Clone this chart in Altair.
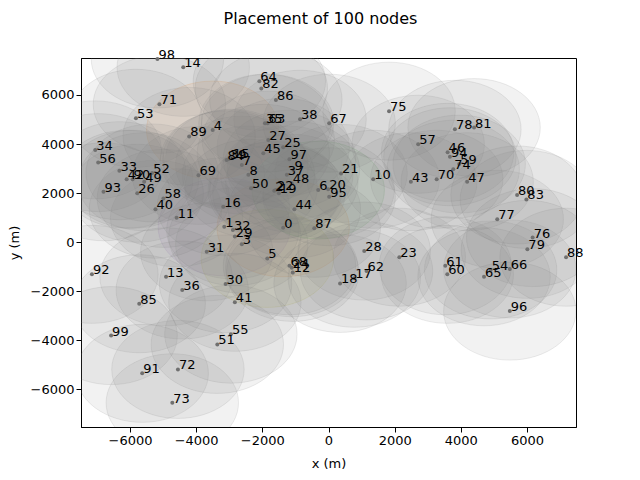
import altair as alt
import pandas as pd

node_id = list(range(100))
x_m = [
    -1370, -3150, -1640, -2620, -3500, -1850, -310, -2620, -2420, -1060,
    1350, -4590, -1080, -4910, -4390, -2920, -3180, 780, 350, -1500,
    -10, 380, -1590, 2140, -1110, -1370, -5780, -1820, 1080, -2830,
    -3110, -3680, -2890, -6320, -7050, -1920, -4420, -1260, -860, -3010,
    -5230, -2830, -6100, 2490, -1030, -1970, 3600, 4190, -1110, -5570,
    -2340, -3360, -5330, -5820, 4900, -2950, -6960, 2710, -4990, 3950,
    3590, 3530, 1150, -1840, -2090, 4700, 5480, 20, -1180, -3930,
    3270, -5110, -4550, -4720, 3770, 1830, 6170, 5100, 3820, 6010,
    5700, 4400, -2030, 5980, -3080, -5720, -1590, -430, 7180, -4210,
    -5920, -5630, -7150, -6800, 3670, 20, 5480, -1180, -5170, -6570,
]
y_m = [
    580, 620, 2090, -90, 4570, -670, 2120, 3140, 2740, 2940,
    2560, 990, -1240, -1420, 7130, 3420, 1440, -1480, -1690, 1990,
    2150, 2800, 2120, -620, -1050, 3870, 1990, 4160, -370, 220,
    -1710, -400, 490, 2910, 3760, 4850, -1960, 2740, 5010, 3390,
    1340, -2460, 2560, 2460, 1340, 3620, 3660, 2460, 2400, 2460,
    2190, -4180, 2820, 5050, -1140, -3760, 3240, 3990, 1780, 3180,
    -1320, -970, -1180, 4850, 6560, -1420, -1100, 4850, -970, 2720,
    2560, 5620, -5200, -6560, 2970, 5340, 180, 930, 4600, -300,
    1920, 4670, 6270, 1740, 3350, -2520, 5800, 560, -620, 4310,
    2560, -5360, -1320, 2050, 3480, 1850, -2820, 3380, 7470, -3820,
]

# a few coverage discs are tinted, the rest are grey
tinted = {0: "#ff7f0e", 1: "#9467bd", 4: "#ff7f0e", 5: "#bcbd22", 6: "#2ca02c"}

nodes = pd.DataFrame({"node": node_id, "x": x_m, "y": y_m})
nodes["label"] = nodes["node"].astype(str)
nodes["ring"] = [tinted.get(n, "#808080") for n in node_id]

# 2000 m radius disc, drawn as an ellipse because the axes are not equal
ring_shape = "M -1 0 A 1 0.74 0 1 0 1 0 A 1 0.74 0 1 0 -1 0 Z"

x_enc = alt.X(
    "x:Q",
    scale=alt.Scale(domain=[-7480, 7480], nice=False, zero=False),
    axis=alt.Axis(values=[-6000, -4000, -2000, 0, 2000, 4000, 6000], format="d",
                  title="x (m)", titlePadding=10),
)
y_enc = alt.Y(
    "y:Q",
    scale=alt.Scale(domain=[-7550, 7510], nice=False, zero=False),
    axis=alt.Axis(values=[-6000, -4000, -2000, 0, 2000, 4000, 6000], format="d",
                  title="y (m)", titlePadding=9),
)

base = alt.Chart(nodes).encode(x=x_enc, y=y_enc)

rings = base.mark_point(
    shape=ring_shape, size=17530, filled=True, fillOpacity=0.1,
    strokeOpacity=0.15, strokeWidth=1, clip=True,
).encode(
    fill=alt.Fill("ring:N", scale=None),
    stroke=alt.Stroke("ring:N", scale=None),
)

dots = base.mark_circle(size=16, color="#707070", opacity=1)

labels = base.mark_text(
    align="left", baseline="alphabetic", dx=1, fontSize=13,
    font="DejaVu Sans", color="black",
).encode(text="label:N")

chart = (
    alt.layer(rings, dots, labels)
    .properties(
        width=495, height=369,
        padding={"left": 73, "top": 50, "right": 50, "bottom": 45},
        autosize=alt.AutoSizeParams(type="none"),
        title=alt.TitleParams("Placement of 100 nodes", fontSize=16, fontWeight="normal",
                              font="DejaVu Sans", color="black", offset=22, dx=-8),
    )
    .configure_view(stroke="black", strokeWidth=1)
    .configure_axis(
        grid=False, domainColor="black", tickColor="black", tickSize=5,
        labelColor="black", labelFont="DejaVu Sans", labelFontSize=13,
        titleColor="black", titleFont="DejaVu Sans", titleFontSize=13,
        titleFontWeight="normal",
    )
)

chart.save("out.html", embed_options={"renderer": "svg", "actions": False})
